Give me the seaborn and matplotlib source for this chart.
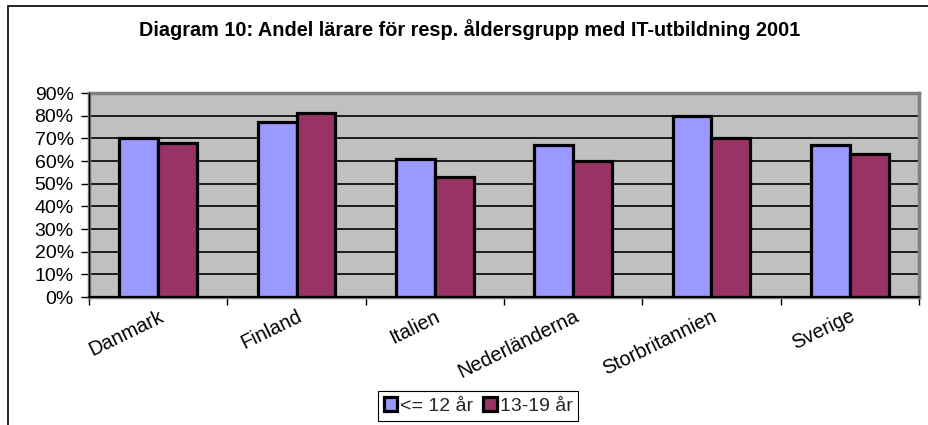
import matplotlib
matplotlib.use("Agg")
import matplotlib.pyplot as plt
import matplotlib.transforms as mtransforms
import seaborn as sns
import pandas as pd
from matplotlib.patches import Rectangle
from matplotlib.ticker import FixedLocator, PercentFormatter

countries = ["Danmark", "Finland", "Italien", "Nederländerna", "Storbritannien", "Sverige"]
groups = ["<= 12 år", "13-19 år"]
young = [70, 77, 61, 67, 80, 67]
older = [68, 81, 53, 60, 70, 63]
colors = ["#9999FF", "#993366"]
yticks = [0, 10, 20, 30, 40, 50, 60, 70, 80, 90]
title = "Diagram 10: Andel lärare för resp. åldersgrupp med IT-utbildning 2001"

df = pd.DataFrame({
    "land": countries * 2,
    "grupp": [groups[0]] * len(countries) + [groups[1]] * len(countries),
    "andel": young + older,
})

sns.set_theme(style="white")
plt.rcParams["font.family"] = ["Liberation Sans", "DejaVu Sans"]

fig = plt.figure(figsize=(9.29, 4.25), dpi=100)
ax = fig.add_axes([89/929, 1 - 297/425, (919 - 89)/929, (297 - 93)/425])
ax.set_facecolor("#C0C0C0")

sns.barplot(data=df, x="land", y="andel", hue="grupp", palette=colors,
            width=0.56, edgecolor="black", linewidth=2.3, ax=ax, legend=True,
            saturation=1, zorder=3)

ax.set_ylim(0, 90)
ax.set_xlim(-0.5, len(countries) - 0.5)
ax.yaxis.set_major_locator(FixedLocator(yticks))
ax.yaxis.set_major_formatter(PercentFormatter(decimals=0))
for v in yticks[1:-1]:
    ax.axhline(v, color="black", lw=1.2, zorder=1)

for s in ax.spines.values():
    s.set_color("#808080")
    s.set_linewidth(2.5)
ax.axhline(0, color="black", lw=1.5, zorder=4, clip_on=False)
ax.axvline(-0.5, color="black", lw=1.0, zorder=4, clip_on=False)

ax.tick_params(axis="y", which="major", left=True, length=6, width=1, color="black",
               labelsize=14, pad=5, labelcolor="black")
ax.tick_params(axis="x", which="major", bottom=False, length=0, labelsize=14.3, pad=7,
               labelcolor="black")
ax.set_xticks([i - 0.5 for i in range(len(countries) + 1)], minor=True)
ax.tick_params(axis="x", which="minor", bottom=True, length=6, width=1, color="black")
ax.set_xticks(range(len(countries)))
ax.set_xticklabels(countries, rotation=26, ha="right", va="top", rotation_mode="anchor")
offset = mtransforms.ScaledTranslation(0/100, 0, fig.dpi_scale_trans)
for lbl in ax.get_xticklabels():
    lbl.set_transform(lbl.get_transform() + offset)
ax.set_xlabel("")
ax.set_ylabel("")

fig.text(470/929, 1 - 30/425, title, ha="center", va="center", fontsize=14.3,
         fontweight="bold", color="black")

handles, labels = ax.get_legend_handles_labels()
ax.get_legend().remove()
leg = fig.legend(handles, labels, loc="center", bbox_to_anchor=(478/929, 1 - 406/425),
                 ncol=2, frameon=True, fancybox=False, edgecolor="black",
                 framealpha=1, fontsize=14, handlelength=0.7, handleheight=0.7,
                 handletextpad=0.15, columnspacing=0.5, borderpad=0.3,
                 borderaxespad=0)
leg.get_frame().set_linewidth(0.8)

fig.patches.append(Rectangle((8/929, -0.1), 1.2, 1 - 6/425 + 0.1,
                             transform=fig.transFigure, fill=False,
                             edgecolor="black", lw=1.2))

fig.savefig("out.png", dpi=100, facecolor="white")
